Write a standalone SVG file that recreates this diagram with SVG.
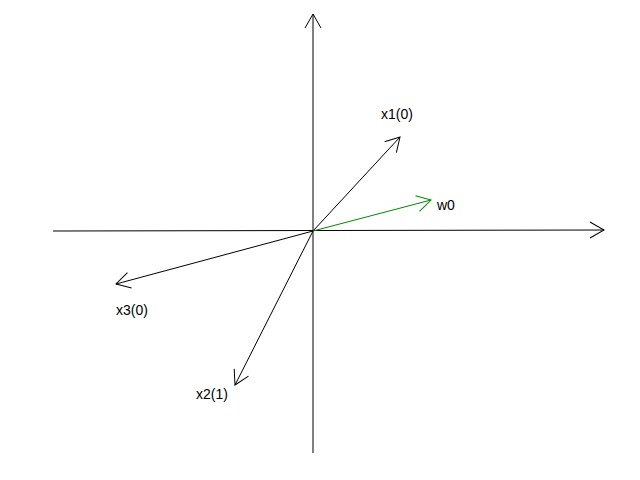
<svg xmlns="http://www.w3.org/2000/svg" width="640" height="480" viewBox="0 0 640 480">
<style>
.ln{fill:none;stroke:#000;stroke-width:1}
.gr{fill:none;stroke:#008a00;stroke-width:1}
text{font-family:"Liberation Sans",Arial,sans-serif;font-size:14px;fill:#000}
</style>
<defs>
<marker id="ob" markerUnits="userSpaceOnUse" markerWidth="20" markerHeight="20" refX="0" refY="0" viewBox="-16 -10 20 20" orient="auto">
<path d="M-14,-8 L0,0 L-14,8" fill="none" stroke="#000" stroke-width="1"/>
</marker>
<marker id="og" markerUnits="userSpaceOnUse" markerWidth="20" markerHeight="20" refX="0" refY="0" viewBox="-16 -10 20 20" orient="auto">
<path d="M-14,-8 L0,0 L-14,8" fill="none" stroke="#008a00" stroke-width="1"/>
</marker>
</defs>
<g id="connectors">
<line class="ln" x1="313" y1="453" x2="313" y2="14" marker-end="url(#ob)"/>
<line class="ln" x1="53" y1="231" x2="604" y2="230" marker-end="url(#ob)"/>
<line class="ln" x1="313" y1="231" x2="400" y2="137" marker-end="url(#ob)"/>
<line class="ln" x1="313" y1="231" x2="116" y2="284" marker-end="url(#ob)"/>
<line class="ln" x1="313" y1="231" x2="235" y2="385" marker-end="url(#ob)"/>
<line class="gr" x1="313" y1="231" x2="431" y2="200" marker-end="url(#og)"/>
</g>
<g id="label-x1"><text x="381" y="119">x1(0)</text></g>
<g id="label-w0"><text x="437" y="210">w0</text></g>
<g id="label-x3"><text x="116" y="315">x3(0)</text></g>
<g id="label-x2"><text x="196" y="399">x2(1)</text></g>
</svg>
